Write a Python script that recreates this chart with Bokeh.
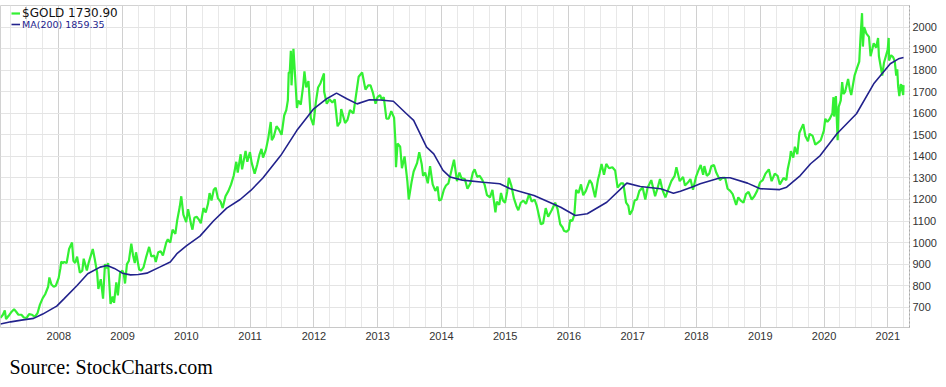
import pandas as pd
from bokeh.plotting import figure
from bokeh.models import Range1d, FixedTicker, Legend, LegendItem, Title, ColumnDataSource
from bokeh.embed import file_html
from bokeh.resources import INLINE

# ---------------- data ----------------
gold_dates = [
    "2007-02-01", "2007-02-15", "2007-02-26", "2007-03-05", "2007-03-20", "2007-04-02", "2007-04-20",
    "2007-05-01", "2007-05-15", "2007-06-01", "2007-06-15", "2007-07-01", "2007-07-15", "2007-08-01",
    "2007-08-16", "2007-09-01", "2007-09-15", "2007-10-01", "2007-10-15", "2007-11-01", "2007-11-08",
    "2007-11-20", "2007-12-03", "2007-12-15", "2007-12-31",
    "2008-01-10", "2008-01-15", "2008-01-24", "2008-02-01", "2008-02-15", "2008-02-29", "2008-03-17",
    "2008-03-25", "2008-04-04", "2008-04-15", "2008-05-01", "2008-05-15", "2008-05-23", "2008-06-10",
    "2008-06-20", "2008-07-01", "2008-07-14", "2008-07-25", "2008-08-08", "2008-08-15", "2008-08-29",
    "2008-09-11", "2008-09-22", "2008-10-01", "2008-10-10", "2008-10-24", "2008-11-05", "2008-11-13",
    "2008-11-26", "2008-12-05", "2008-12-18", "2008-12-31",
    "2009-01-08", "2009-01-15", "2009-01-26", "2009-02-06", "2009-02-20", "2009-03-02", "2009-03-12",
    "2009-03-19", "2009-04-06", "2009-04-17", "2009-05-01", "2009-05-15", "2009-06-02", "2009-06-15",
    "2009-07-01", "2009-07-10", "2009-07-24", "2009-08-07", "2009-08-20", "2009-09-08", "2009-09-17",
    "2009-10-01", "2009-10-14", "2009-10-30", "2009-11-10", "2009-11-24", "2009-12-03", "2009-12-15",
    "2009-12-31",
    "2010-01-11", "2010-01-28", "2010-02-05", "2010-02-16", "2010-03-01", "2010-03-15", "2010-03-25",
    "2010-04-09", "2010-04-22", "2010-05-05", "2010-05-14", "2010-05-25", "2010-06-07", "2010-06-18",
    "2010-07-01", "2010-07-16", "2010-07-28", "2010-08-13", "2010-08-30", "2010-09-14", "2010-09-29",
    "2010-10-14", "2010-10-22", "2010-11-08", "2010-11-16", "2010-12-06", "2010-12-16", "2010-12-31",
    "2011-01-10", "2011-01-27", "2011-02-10", "2011-02-24", "2011-03-07", "2011-03-16", "2011-04-01",
    "2011-04-15", "2011-04-29", "2011-05-05", "2011-05-16", "2011-06-01", "2011-06-15", "2011-06-30",
    "2011-07-15", "2011-07-27", "2011-08-05", "2011-08-10", "2011-08-16", "2011-08-22", "2011-08-26",
    "2011-09-06", "2011-09-15", "2011-09-26", "2011-10-04", "2011-10-18", "2011-11-01", "2011-11-08",
    "2011-11-18", "2011-12-01", "2011-12-14", "2011-12-29",
    "2012-01-12", "2012-01-25", "2012-02-08", "2012-02-28", "2012-02-29", "2012-03-15", "2012-03-30",
    "2012-04-16", "2012-04-30", "2012-05-16", "2012-05-31", "2012-06-06", "2012-06-28", "2012-07-12",
    "2012-07-26", "2012-08-15", "2012-08-31", "2012-09-14", "2012-10-04", "2012-10-23", "2012-11-08",
    "2012-11-21", "2012-12-05", "2012-12-20", "2012-12-31",
    "2013-01-15", "2013-01-24", "2013-02-05", "2013-02-20", "2013-03-05", "2013-03-20", "2013-04-05",
    "2013-04-12", "2013-04-16", "2013-04-25", "2013-05-10", "2013-05-20", "2013-06-04", "2013-06-20",
    "2013-06-28", "2013-07-15", "2013-07-26", "2013-08-15", "2013-08-27", "2013-09-10", "2013-09-18",
    "2013-09-30", "2013-10-15", "2013-10-28", "2013-11-12", "2013-11-27", "2013-12-10", "2013-12-19",
    "2013-12-31",
    "2014-01-15", "2014-01-27", "2014-02-10", "2014-02-26", "2014-03-14", "2014-03-31", "2014-04-14",
    "2014-04-25", "2014-05-15", "2014-05-30", "2014-06-16", "2014-06-30", "2014-07-10", "2014-07-25",
    "2014-08-08", "2014-08-20", "2014-09-05", "2014-09-19", "2014-10-06", "2014-10-20", "2014-11-06",
    "2014-11-14", "2014-11-28", "2014-12-08", "2014-12-19", "2014-12-31",
    "2015-01-12", "2015-01-22", "2015-02-05", "2015-02-20", "2015-03-06", "2015-03-17", "2015-03-31",
    "2015-04-15", "2015-04-30", "2015-05-18", "2015-06-02", "2015-06-18", "2015-07-01", "2015-07-24",
    "2015-08-06", "2015-08-21", "2015-09-04", "2015-09-24", "2015-10-14", "2015-10-28", "2015-11-12",
    "2015-11-26", "2015-12-03", "2015-12-17", "2015-12-31",
    "2016-01-08", "2016-01-20", "2016-02-01", "2016-02-11", "2016-02-25", "2016-03-10", "2016-03-23",
    "2016-04-07", "2016-04-29", "2016-05-11", "2016-05-30", "2016-06-15", "2016-06-24", "2016-07-06",
    "2016-07-20", "2016-08-02", "2016-08-18", "2016-09-06", "2016-09-22", "2016-10-06", "2016-10-25",
    "2016-11-08", "2016-11-24", "2016-12-07", "2016-12-15", "2016-12-30",
    "2017-01-12", "2017-01-25", "2017-02-08", "2017-02-27", "2017-03-14", "2017-03-27", "2017-04-17",
    "2017-05-09", "2017-05-24", "2017-06-06", "2017-06-20", "2017-07-07", "2017-07-25", "2017-08-10",
    "2017-08-29", "2017-09-08", "2017-09-27", "2017-10-16", "2017-10-27", "2017-11-14", "2017-11-27",
    "2017-12-12", "2017-12-29",
    "2018-01-12", "2018-01-25", "2018-02-08", "2018-02-15", "2018-03-01", "2018-03-15", "2018-03-27",
    "2018-04-11", "2018-04-24", "2018-05-15", "2018-05-29", "2018-06-14", "2018-06-28", "2018-07-13",
    "2018-07-27", "2018-08-16", "2018-08-28", "2018-09-11", "2018-09-27", "2018-10-11", "2018-10-26",
    "2018-11-13", "2018-11-28", "2018-12-14", "2018-12-31",
    "2019-01-15", "2019-01-31", "2019-02-19", "2019-03-07", "2019-03-25", "2019-04-10", "2019-04-23",
    "2019-05-14", "2019-05-30", "2019-06-07", "2019-06-20", "2019-06-25", "2019-07-09", "2019-07-18",
    "2019-08-01", "2019-08-13", "2019-09-04", "2019-09-16", "2019-10-01", "2019-10-10", "2019-10-28",
    "2019-11-12", "2019-11-29", "2019-12-13", "2019-12-31",
    "2020-01-08", "2020-01-20", "2020-02-03", "2020-02-18", "2020-02-24", "2020-02-28", "2020-03-09",
    "2020-03-19", "2020-03-25", "2020-04-06", "2020-04-14", "2020-04-21", "2020-05-01", "2020-05-18",
    "2020-05-28", "2020-06-05", "2020-06-24", "2020-07-08", "2020-07-21", "2020-07-28", "2020-08-06",
    "2020-08-11", "2020-08-18", "2020-08-31", "2020-09-15", "2020-09-24", "2020-10-12", "2020-10-26",
    "2020-11-06", "2020-11-11", "2020-11-30", "2020-12-10", "2020-12-31",
    "2021-01-06", "2021-01-08", "2021-01-20", "2021-02-01", "2021-02-10", "2021-02-18", "2021-02-24",
    "2021-03-01", "2021-03-08", "2021-03-15", "2021-03-18", "2021-03-30", "2021-04-01",
]
gold_values = [
    650, 665, 685, 645, 660, 675, 690,
    680, 665, 665, 652, 650, 668, 665,
    655, 672, 712, 742, 760, 795, 838,
    805, 795, 800, 835,
    880, 912, 905, 910, 905, 970, 1000,
    915, 905, 935, 860, 870, 925, 870,
    905, 935, 970, 925, 860, 785, 830,
    740, 900, 880, 905, 715, 750, 720,
    815, 755, 860, 870,
    855, 810, 900, 915, 995, 940, 905,
    955, 875, 870, 885, 930, 980, 935,
    940, 910, 955, 960, 940, 1000, 1015,
    1000, 1060, 1040, 1105, 1165, 1215, 1130,
    1095,
    1155, 1085, 1060, 1115, 1120, 1105, 1090,
    1160, 1140, 1180, 1230, 1195, 1245, 1255,
    1205, 1190, 1160, 1215, 1240, 1270, 1310,
    1375, 1325, 1410, 1340, 1425, 1375, 1420,
    1370, 1320, 1360, 1410, 1435, 1395, 1430,
    1485, 1560, 1475, 1490, 1540, 1525, 1500,
    1590, 1615, 1660, 1790, 1790, 1890, 1730,
    1900, 1780, 1625, 1660, 1640, 1730, 1795,
    1720, 1750, 1580, 1545,
    1650, 1720, 1740, 1785, 1700, 1645, 1665,
    1650, 1665, 1540, 1560, 1620, 1555, 1570,
    1615, 1600, 1690, 1770, 1790, 1710, 1730,
    1730, 1695, 1645, 1675,
    1685, 1665, 1675, 1575, 1575, 1610, 1580,
    1480, 1350, 1460, 1445, 1345, 1400, 1285,
    1200, 1285, 1330, 1370, 1420, 1365, 1310,
    1325, 1275, 1355, 1270, 1240, 1260, 1195,
    1200,
    1245, 1265, 1275, 1330, 1385, 1285, 1325,
    1300, 1295, 1250, 1275, 1325, 1340, 1305,
    1310, 1295, 1270, 1220, 1210, 1245, 1140,
    1190, 1175, 1230, 1195, 1185,
    1235, 1300, 1265, 1205, 1170, 1150, 1185,
    1195, 1180, 1225, 1190, 1200, 1170, 1085,
    1090, 1160, 1120, 1150, 1185, 1155, 1085,
    1070, 1055, 1050, 1060,
    1105, 1100, 1130, 1245, 1230, 1270, 1220,
    1240, 1290, 1275, 1210, 1290, 1320, 1365,
    1315, 1365, 1345, 1350, 1335, 1255, 1275,
    1275, 1185, 1170, 1130, 1150,
    1195, 1200, 1240, 1255, 1200, 1255, 1290,
    1215, 1255, 1295, 1245, 1210, 1250, 1285,
    1310, 1350, 1285, 1305, 1265, 1280, 1295,
    1245, 1305,
    1335, 1360, 1315, 1355, 1310, 1320, 1355,
    1360, 1325, 1290, 1300, 1300, 1250, 1240,
    1225, 1175, 1210, 1195, 1185, 1225, 1235,
    1200, 1215, 1240, 1280,
    1290, 1320, 1340, 1285, 1320, 1310, 1270,
    1300, 1290, 1340, 1390, 1425, 1395, 1445,
    1410, 1510, 1550, 1495, 1470, 1505, 1495,
    1455, 1465, 1475, 1520,
    1575, 1560, 1575, 1600, 1675, 1585, 1680,
    1475, 1630, 1660, 1745, 1690, 1700, 1760,
    1710, 1685, 1775, 1810, 1840, 1950, 2065,
    1910, 2000, 1970, 1955, 1865, 1925, 1905,
    1950, 1865, 1775, 1835, 1895,
    1950, 1845, 1870, 1860, 1840, 1775, 1805,
    1725, 1680, 1730, 1735, 1685, 1730.90,
]

ma_dates = [
    "2007-02-01", "2007-04-01", "2007-06-01", "2007-08-10", "2007-10-01", "2007-12-20",
    "2008-02-01", "2008-04-15", "2008-06-15", "2008-08-25", "2008-10-05", "2008-11-15", "2008-12-31",
    "2009-02-15", "2009-04-01", "2009-05-20", "2009-08-01", "2009-10-01", "2009-11-10",
    "2010-01-01", "2010-03-20", "2010-06-05", "2010-08-20", "2010-11-05",
    "2011-01-05", "2011-03-15", "2011-06-25", "2011-09-25", "2011-12-31",
    "2012-03-15", "2012-05-10", "2012-07-08", "2012-09-05", "2012-11-15",
    "2013-01-15", "2013-04-01", "2013-06-15", "2013-07-26", "2013-10-08", "2013-11-18",
    "2014-01-10", "2014-02-20", "2014-05-01", "2014-08-28", "2014-12-01",
    "2015-01-30", "2015-06-15", "2015-11-15",
    "2016-02-06", "2016-04-15", "2016-08-05", "2016-11-28",
    "2017-02-13", "2017-06-10", "2017-08-22", "2017-10-01", "2017-12-15",
    "2018-01-22", "2018-05-18", "2018-07-12", "2018-10-20",
    "2019-01-01", "2019-04-22", "2019-06-01", "2019-08-18", "2019-10-16", "2019-12-10",
    "2020-03-15", "2020-07-05", "2020-10-12",
    "2021-01-15", "2021-03-03", "2021-04-01",
]
ma_values = [
    622, 632, 640, 648, 668, 705,
    740, 801, 855, 886, 894, 880, 858,
    850, 852, 858, 886, 910, 950,
    985, 1030, 1100, 1160, 1200,
    1242, 1300, 1404, 1520, 1621,
    1668, 1694, 1668, 1644, 1663,
    1662, 1656, 1598, 1567, 1443, 1412,
    1335, 1304, 1290, 1280, 1273,
    1250, 1219, 1164,
    1126, 1134, 1187, 1276,
    1260, 1250, 1229, 1238, 1260,
    1273, 1301, 1301, 1276,
    1250, 1246, 1257, 1311, 1366, 1404,
    1505, 1598, 1737,
    1830, 1853, 1859.35,
]

year_ticks = [2008, 2009, 2010, 2011, 2012, 2013, 2014, 2015, 2016, 2017, 2018, 2019, 2020, 2021]
year_labels = ["2008", "2009", "2010", "2011", "2012", "2013", "2014", "2015", "2016", "2017",
               "2018", "2019", "2020", "2021"]
price_ticks = [700, 800, 900, 1000, 1100, 1200, 1300, 1400, 1500, 1600, 1700, 1800, 1900, 2000]

gold_label = "$GOLD 1730.90"
ma_label = "MA(200) 1859.35"
source_text = "Source: StockCharts.com"


def frac_year(dates):
    d = pd.to_datetime(pd.Series(dates))
    start = pd.to_datetime(d.dt.year.astype(str) + "-01-01")
    days = (d - start).dt.days
    ylen = 365 + d.dt.is_leap_year.astype(int)
    return (d.dt.year + days / ylen).tolist()


gold_src = ColumnDataSource(dict(x=frac_year(gold_dates), y=gold_values))
ma_src = ColumnDataSource(dict(x=frac_year(ma_dates), y=ma_values))

GREEN = "#33f033"
NAVY = "#22228c"

p = figure(frame_width=909, frame_height=322,
           x_range=Range1d(2007.0858, 2021.340), y_range=Range1d(605.7, 2100.7),
           y_axis_location="right", output_backend="svg", toolbar_location=None,
           title=None,
           min_border_left=0, min_border_top=5, min_border_right=0, min_border_bottom=59,
           background_fill_color="white", border_fill_color="white",
           outline_line_color="#d2d2d2", outline_line_width=1)

r_gold = p.line("x", "y", source=gold_src, line_color=GREEN, line_width=2.2)
r_ma = p.line("x", "y", source=ma_src, line_color=NAVY, line_width=1.6)

# x axis
xa = p.xaxis[0]
xa.ticker = FixedTicker(ticks=year_ticks,
                        minor_ticks=[y + q / 4 for y in range(2007, 2022) for q in (1, 2, 3)])
xa.major_label_overrides = {t: l for t, l in zip(year_ticks, year_labels)}
xa.axis_line_color = "#c8c8c8"
xa.major_tick_line_color = None
xa.minor_tick_line_color = None
xa.major_tick_out = 0
xa.major_tick_in = 0
xa.major_label_standoff = 0
xa.major_label_text_font = "Liberation Sans"
xa.major_label_text_font_size = "11px"
xa.major_label_text_color = "#333333"

# y axis (right)
ya = p.yaxis[0]
ya.ticker = FixedTicker(ticks=price_ticks)
ya.axis_line_color = "#a8a8a8"
ya.axis_line_dash = "2 2"
ya.major_tick_line_color = None
ya.minor_tick_line_color = None
ya.major_tick_out = 0
ya.major_tick_in = 0
ya.major_label_standoff = 3
ya.major_label_text_font = "Liberation Sans"
ya.major_label_text_font_size = "11px"
ya.major_label_text_color = "#333333"

p.xgrid.grid_line_color = "#d0d0d0"
p.xgrid.minor_grid_line_color = "#e8e8e8"
p.ygrid.grid_line_color = "#e4e4e4"

common = dict(padding=0, margin=0, spacing=0, border_line_color=None, background_fill_alpha=0,
              glyph_width=9, glyph_height=14, label_height=14, label_standoff=2,
              label_text_font="DejaVu Sans")
leg1 = Legend(items=[LegendItem(label=gold_label, renderers=[r_gold])], location=(11, 307),
              label_text_font_size="12px", label_text_color="#111111", **common)
leg2 = Legend(items=[LegendItem(label=ma_label, renderers=[r_ma])], location=(11, 296),
              label_text_font_size="9.5px", label_text_color=NAVY, **common)
p.add_layout(leg1, "center")
p.add_layout(leg2, "center")

p.add_layout(Title(text=source_text, align="left", text_font="Liberation Serif",
                   text_font_size="20px", text_font_style="normal", text_color="#000000",
                   offset=9, standoff=22), "below")

open("out.html", "w").write(file_html(p, INLINE))
